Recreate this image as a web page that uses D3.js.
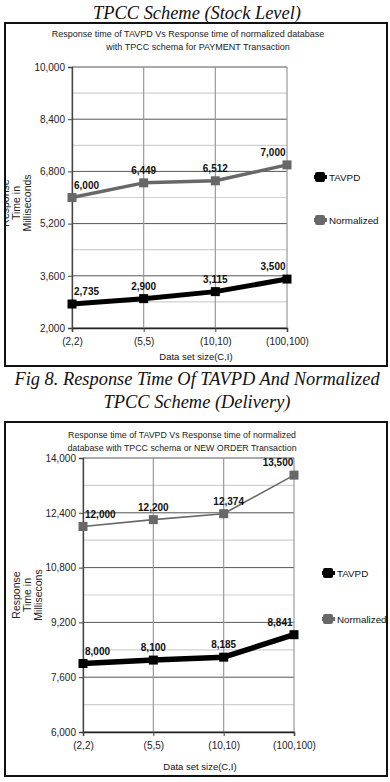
<!DOCTYPE html>
<html><head><meta charset="utf-8">
<script src="https://cdn.jsdelivr.net/npm/d3@7"></script>
<style>
html,body{margin:0;padding:0;background:#fff;}
svg{display:block;}
</style></head>
<body>
<script>
const categories = ["(2,2)", "(5,5)", "(10,10)", "(100,100)"];
const seriesNames = ["TAVPD", "Normalized"];
// Chart 1: PAYMENT transaction (Stock Level)
const tavpd1 = [2735, 2900, 3115, 3500];
const normalized1 = [6000, 6449, 6512, 7000];
const yTicks1 = [2000, 3600, 5200, 6800, 8400, 10000];
// Chart 2: NEW ORDER transaction (Delivery)
const tavpd2 = [8000, 8100, 8185, 8841];
const normalized2 = [12000, 12200, 12374, 13500];
const yTicks2 = [6000, 7600, 9200, 10800, 12400, 14000];

const W = 390, H = 782;
const svg = d3.select("body").append("svg").attr("width", W).attr("height", H);
const sans = "'Liberation Sans', Arial, sans-serif";
const serif = "'Liberation Serif', 'Times New Roman', serif";
const fmt = d3.format(",");

function caption(lines, y0, dy) {
  lines.forEach((t, i) => {
    svg.append("text").attr("x", W / 2 + 2).attr("y", y0 + i * dy)
      .attr("text-anchor", "middle").attr("font-family", serif)
      .attr("font-style", "italic").attr("font-size", 18.4).attr("fill", "#111").text(t);
  });
}

caption(["TPCC Scheme (Stock Level)"], 19, 0);
caption(["Fig 8. Response Time Of TAVPD And Normalized", "TPCC Scheme (Delivery)"], 385, 23);

function drawChart(o) {
  const clipId = "clip" + o.id;
  svg.append("clipPath").attr("id", clipId).append("rect")
    .attr("x", o.box[0]).attr("y", o.box[1]).attr("width", o.box[2] - o.box[0]).attr("height", o.box[3] - o.box[1]);
  const g = svg.append("g").attr("clip-path", `url(#${clipId})`);

  // title
  o.title.forEach((t, i) => {
    g.append("text").attr("x", o.titleX[i]).attr("y", o.titleY + i * 13)
      .attr("text-anchor", "middle").attr("font-family", sans).attr("font-size", o.titleSize)
      .attr("fill", "#222").text(t);
  });

  const x = d3.scalePoint().domain(categories).range([o.px0, o.px1]);
  const y = d3.scaleLinear().domain([o.ticks[0], o.ticks[o.ticks.length - 1]]).range([o.py1, o.py0]);

  // minor gridlines
  const minor = d3.range(o.ticks.length - 1).map(i => (o.ticks[i] + o.ticks[i + 1]) / 2);
  g.selectAll(null).data(minor).join("line")
    .attr("x1", o.px0).attr("x2", o.px1).attr("y1", d => y(d)).attr("y2", d => y(d))
    .attr("stroke", "#d0d0d0").attr("stroke-width", 1.2);
  // major gridlines
  g.selectAll(null).data(o.ticks).join("line")
    .attr("x1", o.px0).attr("x2", o.px1).attr("y1", d => y(d)).attr("y2", d => y(d))
    .attr("stroke", "#555").attr("stroke-width", 1);
  // vertical gridlines
  g.selectAll(null).data(categories).join("line")
    .attr("x1", d => x(d)).attr("x2", d => x(d)).attr("y1", o.py0).attr("y2", o.py1)
    .attr("stroke", "#999").attr("stroke-width", 1.2);

  // axes
  const ya = g.append("g").attr("transform", `translate(${o.px0},0)`)
    .call(d3.axisLeft(y).tickValues(o.ticks).tickFormat(fmt).tickSize(4).tickPadding(3));
  ya.select(".domain").attr("stroke", "#444").attr("stroke-width", 1.3);
  ya.selectAll(".tick line").attr("stroke", "#444");
  ya.selectAll("text").attr("font-family", sans).attr("font-size", 10).attr("fill", "#222");

  const xa = g.append("g").attr("transform", `translate(0,${o.py1})`)
    .call(d3.axisBottom(x).tickSize(4).tickPadding(6));
  xa.select(".domain").attr("stroke", "#222").attr("stroke-width", 1.5);
  xa.selectAll(".tick line").attr("stroke", "#444");
  xa.selectAll("text").attr("font-family", sans).attr("font-size", 10).attr("fill", "#222");

  // axis titles
  g.append("text").attr("x", o.xTitleX).attr("y", o.xTitleY)
    .attr("text-anchor", "middle").attr("font-family", sans).attr("font-size", 9.5)
    .attr("fill", "#111").text("Data set size(C,I)");
  const yt = g.append("text").attr("transform", `translate(${o.yTitleX},${o.yTitleY}) rotate(-90)`)
    .attr("text-anchor", "middle").attr("font-family", sans).attr("font-size", 10.5).attr("fill", "#222");
  o.yTitle.forEach((t, i) => yt.append("tspan").attr("x", 0).attr("dy", i === 0 ? 0 : 11).text(t));

  // series
  const series = [
    { name: seriesNames[0], values: o.tavpd, color: "#000", width: o.tWidth, ms: 9, offs: o.tOff },
    { name: seriesNames[1], values: o.norm, color: "#686868", width: o.nWidth, ms: 9, offs: o.nOff }
  ];
  const line = d3.line().x((d, i) => x(categories[i])).y(d => y(d));
  series.forEach(s => {
    g.append("path").attr("d", line(s.values)).attr("fill", "none")
      .attr("stroke", s.color).attr("stroke-width", s.width).attr("stroke-linejoin", "round");
    g.selectAll(null).data(s.values).join("rect")
      .attr("x", (d, i) => x(categories[i]) - s.ms / 2).attr("y", d => y(d) - s.ms / 2)
      .attr("width", s.ms).attr("height", s.ms).attr("fill", s.color);
    g.selectAll(null).data(s.values).join("text")
      .attr("x", (d, i) => x(categories[i]) + s.offs[i])
      .attr("y", d => y(d) - 9)
      .attr("text-anchor", (d, i) => i === 0 ? "start" : "middle")
      .attr("font-family", sans).attr("font-size", 10).attr("font-weight", "bold")
      .attr("fill", "#111").text(d => fmt(d));
  });

  // legend
  series.forEach((s, i) => {
    const ly = o.legY + i * o.legDy;
    g.append("line").attr("x1", o.legX - 6).attr("x2", o.legX + 7).attr("y1", ly).attr("y2", ly)
      .attr("stroke", s.color).attr("stroke-width", 4);
    g.append("rect").attr("x", o.legX - 5).attr("y", ly - 5).attr("width", 10).attr("height", 10)
      .attr("rx", 2).attr("fill", s.color);
    g.append("text").attr("x", o.legX + 9).attr("y", ly + 4).attr("font-family", sans)
      .attr("font-size", 9.8).attr("fill", "#111").text(s.name);
  });

  // box border
  svg.append("rect").attr("x", o.box[0]).attr("y", o.box[1])
    .attr("width", o.box[2] - o.box[0]).attr("height", o.box[3] - o.box[1])
    .attr("fill", "none").attr("stroke", "#111").attr("stroke-width", 2);
}

drawChart({
  id: 1, box: [5, 23, 387, 366],
  title: ["Response time of TAVPD Vs Response time of normalized database", "with TPCC schema for PAYMENT  Transaction"],
  titleX: [188, 198], titleY: 37, titleSize: 9,
  px0: 72, px1: 287, py0: 67, py1: 328, ticks: yTicks1,
  tavpd: tavpd1, norm: normalized1, tWidth: 5, nWidth: 3.5,
  tOff: [2, 0, 0, -14], nOff: [2, 0, 0, -14],
  xTitleX: 196, xTitleY: 360, yTitleX: 9, yTitleY: 203, yTitle: ["Response", "Time in", "Milliseconds"],
  legX: 320, legY: 177, legDy: 43
});

drawChart({
  id: 2, box: [5, 422, 387, 776],
  title: ["Response time of TAVPD Vs Response time of normalized", "database with TPCC schema or NEW ORDER Transaction"],
  titleX: [182, 182], titleY: 438, titleSize: 8.8,
  px0: 83, px1: 294, py0: 458, py1: 732, ticks: yTicks2,
  tavpd: tavpd2, norm: normalized2, tWidth: 5.5, nWidth: 1.6,
  tOff: [2, 0, 0, -14], nOff: [2, 0, 5, -16],
  xTitleX: 200, xTitleY: 770, yTitleX: 20, yTitleY: 595, yTitle: ["Response", "Time in", "Millisecons"],
  legX: 328, legY: 573, legDy: 46
});
</script>
</body></html>
